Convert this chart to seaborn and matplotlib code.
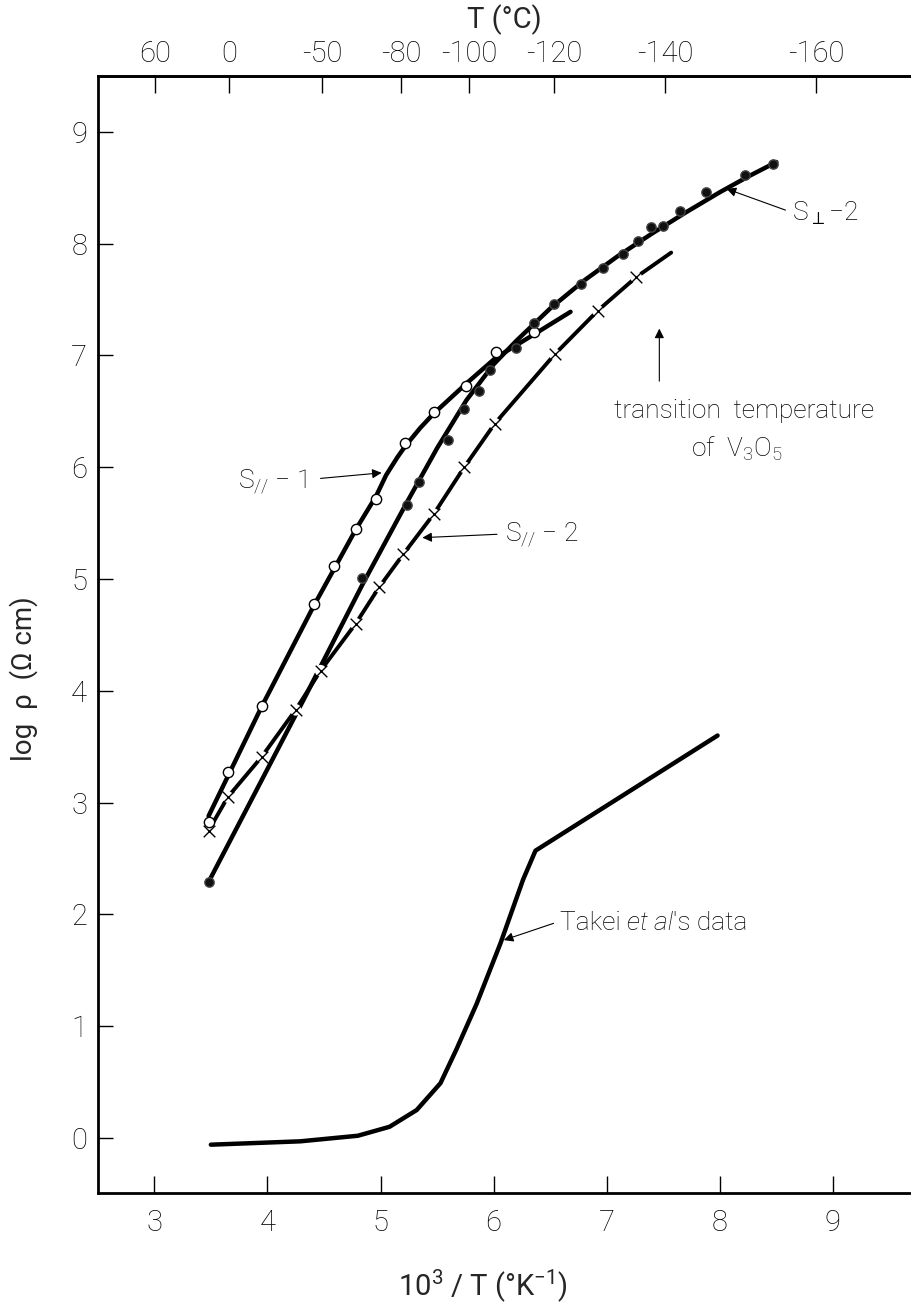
import matplotlib
matplotlib.use("Agg")
import matplotlib.pyplot as plt
import seaborn as sns
import numpy as np

# ---- measured points (x = 10^3/T in K^-1, y = log rho in ohm cm) ----
s_par1_x = [3.48, 3.65, 3.95, 4.41, 4.59, 4.78, 4.96, 5.22, 5.47, 5.76, 6.02, 6.36]
s_par1_y = [2.83, 3.27, 3.86, 4.78, 5.12, 5.45, 5.72, 6.22, 6.49, 6.73, 7.03, 7.21]

s_perp2_x = [3.48, 4.84, 5.23, 5.34, 5.60, 5.74, 5.87, 5.97, 6.20, 6.36, 6.53,
             6.77, 6.97, 7.14, 7.28, 7.39, 7.50, 7.65, 7.88, 8.22, 8.47]
s_perp2_y = [2.29, 5.01, 5.66, 5.87, 6.24, 6.52, 6.68, 6.87, 7.07, 7.29, 7.46,
             7.64, 7.78, 7.91, 8.02, 8.15, 8.16, 8.29, 8.46, 8.61, 8.71]

s_par2_x = [3.48, 3.65, 3.95, 4.25, 4.47, 4.78, 4.99, 5.20, 5.47, 5.74, 6.01, 6.54, 6.92, 7.26]
s_par2_y = [2.75, 3.05, 3.41, 3.83, 4.18, 4.60, 4.93, 5.22, 5.58, 6.00, 6.39, 7.01, 7.40, 7.70]

# ---- hand-drawn guide curves through the data ----
curve_par1_x = [3.48, 3.95, 4.41, 4.78, 4.96, 5.05, 5.15, 5.22, 5.35, 5.47, 5.76, 6.02, 6.36, 6.68]
curve_par1_y = [2.88, 3.86, 4.76, 5.44, 5.74, 5.93, 6.09, 6.19, 6.35, 6.48, 6.75, 6.98, 7.19, 7.39]

curve_perp2_x = [3.48, 4.32, 4.84, 5.23, 5.50, 5.76, 6.00, 6.20, 6.50, 6.80, 7.10, 7.40, 7.70, 8.00, 8.25, 8.50]
curve_perp2_y = [2.29, 3.92, 4.95, 5.68, 6.17, 6.60, 6.92, 7.13, 7.42, 7.67, 7.89, 8.09, 8.28, 8.46, 8.60, 8.73]

curve_par2_x = s_par2_x + [7.57]
curve_par2_y = s_par2_y + [7.92]

takei_x = [3.50, 4.29, 4.80, 5.08, 5.32, 5.53, 5.67, 5.85, 6.06, 6.26, 6.37, 7.98]
takei_y = [-0.06, -0.03, 0.02, 0.10, 0.25, 0.49, 0.79, 1.20, 1.74, 2.31, 2.57, 3.60]

# top axis: temperature in Celsius
top_ticks_c = [60, 0, -50, -80, -100, -120, -140, -160]
top_tick_labels = ["60", "0", "-50", "-80", "-100", "-120", "-140", "-160"]
x_ticks = [3, 4, 5, 6, 7, 8, 9]
y_ticks = [0, 1, 2, 3, 4, 5, 6, 7, 8, 9]

sns.set_theme(style="ticks")
plt.rcParams["font.family"] = ["Roboto", "DejaVu Sans"]
plt.rcParams["font.weight"] = "light"
plt.rcParams["mathtext.default"] = "regular"

fig = plt.figure(figsize=(9.11, 13.05), dpi=100)
ax = fig.add_axes([0.1079, 0.0861, 0.8921, 0.8557])

lw_curve = 3.2
sns.lineplot(x=curve_par1_x, y=curve_par1_y, ax=ax, color="black", lw=lw_curve, sort=False, zorder=2)
sns.lineplot(x=curve_perp2_x, y=curve_perp2_y, ax=ax, color="black", lw=lw_curve, sort=False, zorder=2)
sns.lineplot(x=curve_par2_x, y=curve_par2_y, ax=ax, color="black", lw=lw_curve - 0.4, sort=False, zorder=2)
sns.lineplot(x=takei_x, y=takei_y, ax=ax, color="black", lw=lw_curve, sort=False, zorder=2)

# gaps in the S//-2 line around each cross
sns.scatterplot(x=s_par2_x, y=s_par2_y, ax=ax, marker="o", s=70, color="white",
                edgecolor="none", linewidth=0, zorder=3)
sns.scatterplot(x=s_par2_x, y=s_par2_y, ax=ax, marker="x", s=70, color="black",
                linewidth=1.0, zorder=4)
sns.scatterplot(x=s_par1_x, y=s_par1_y, ax=ax, marker="o", s=55, color="white",
                edgecolor="black", linewidth=1.0, zorder=5)
sns.scatterplot(x=s_perp2_x, y=s_perp2_y, ax=ax, marker="o", s=45, color="#111111",
                edgecolor="#444444", linewidth=1.0, zorder=5)

ax.set_xlim(2.505, 9.69)
ax.set_ylim(-0.489, 9.50)
ax.set_xticks(x_ticks)
ax.set_yticks(y_ticks)
ax.set_xticklabels([str(t) for t in x_ticks])
ax.set_yticklabels([str(t) for t in y_ticks])

for side in ["left", "bottom", "top"]:
    ax.spines[side].set_linewidth(2.0)
    ax.spines[side].set_color("black")
ax.spines["right"].set_visible(False)
ax.tick_params(axis="x", direction="in", length=12, width=1.0, pad=12, labelsize=21, colors="black")
ax.tick_params(axis="y", direction="in", length=11, width=1.0, pad=8, labelsize=21, colors="black")

sec = ax.secondary_xaxis("top", functions=(lambda x: 1000.0 / np.asarray(x, float) - 273.0,
                                           lambda t: 1000.0 / (np.asarray(t, float) + 273.0)))
sec.set_xticks(top_ticks_c)
sec.set_xticklabels(top_tick_labels)
sec.tick_params(direction="in", length=12, width=1.0, pad=6, labelsize=21, colors="black")
sec.spines["top"].set_linewidth(2.0)
sec.set_xlabel("T (°C)", fontsize=21, labelpad=8)

ax.set_xlabel("10$^{3}$ / T (°K$^{-1}$)", fontsize=21)
ax.xaxis.set_label_coords((483 - 98.3) / (911 - 98.3), (1192.7 - 1268) / (1192.7 - 76))
ax.set_ylabel("log  ρ  (Ω cm)", fontsize=20)
ax.yaxis.set_label_coords((38 - 98.3) / (911 - 98.3), (1192.7 - 679) / (1192.7 - 76))

txt = dict(fontsize=19, color="black", va="baseline")
arrow = dict(arrowstyle="-|>", lw=0.8, color="black", mutation_scale=14, shrinkA=0, shrinkB=0)

ax.text(3.74, 5.80, "S$_{//}$ − 1", ha="left", **txt)
ax.annotate("", xy=(5.01, 5.95), xytext=(4.47, 5.90), arrowprops=arrow)

ax.text(6.10, 5.33, "S$_{//}$ − 2", ha="left", **txt)
ax.annotate("", xy=(5.37, 5.37), xytext=(6.03, 5.40), arrowprops=arrow)

ax.text(8.64, 8.20, "S$_{\\perp}$−2", ha="left", **txt)
ax.annotate("", xy=(8.06, 8.49), xytext=(8.58, 8.30), arrowprops=arrow)

ax.text(8.21, 6.44, "transition  temperature", ha="center", **txt)
ax.text(8.15, 6.09, "of  V$_3$O$_5$", ha="center", **txt)
ax.annotate("", xy=(7.465, 7.24), xytext=(7.465, 6.77), arrowprops=arrow)

# "Takei et al's data" with the "et al" in italics
t1 = ax.text(6.59, 1.86, "Takei ", ha="left", **txt)
t2 = ax.annotate("et al", xy=(1, 0), xycoords=t1, ha="left", va="bottom",
                 fontsize=19, style="italic", color="black")
ax.annotate("'s data", xy=(1, 0), xycoords=t2, ha="left", va="bottom",
            fontsize=19, color="black")
ax.annotate("", xy=(6.09, 1.77), xytext=(6.53, 1.92), arrowprops=arrow)

fig.savefig("out.png", dpi=100)
